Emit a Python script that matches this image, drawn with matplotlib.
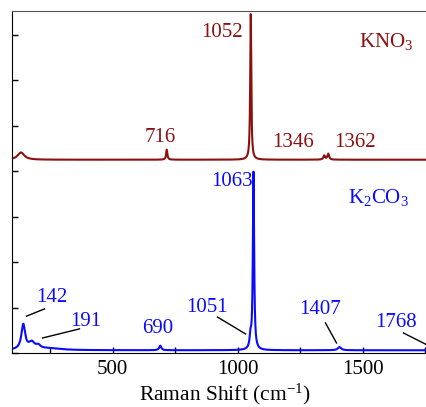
import numpy as np
import matplotlib
matplotlib.use("Agg")
import matplotlib.pyplot as plt

plt.rcParams['font.family'] = ['Liberation Serif', 'DejaVu Serif']
plt.rcParams['mathtext.fontset'] = 'custom'
plt.rcParams['mathtext.rm'] = 'Liberation Serif'
plt.rcParams['mathtext.it'] = 'Liberation Serif:italic'

# ---- data ----
# KNO3 (offset spectrum): baseline, peak centres, heights, half-widths
kno3_base = 4.25
kno3_centres = [133, 716, 1052, 1346, 1362]
kno3_heights = [0.16, 0.22, 3.20, 0.09, 0.13]
kno3_hwhm = [16, 3, 2.5, 4, 4]
kno3_labels = ["716", "1052", "1346", "1362"]
kno3_label_pos = [(691, 4.73), (935, 7.05), (1223, 4.62), (1467, 4.62)]

# K2CO3
k2co3_base = 0.06
k2co3_centres = [142, 176, 202, 240, 690, 1051, 1063, 1407]
k2co3_heights = [0.55, 0.15, 0.07, 0.04, 0.10, 0.26, 3.90, 0.07]
k2co3_hwhm = [9, 14, 10, 60, 5, 4, 3, 8]
k2co3_labels = ["142", "191", "690", "1051", "1063", "1407", "1768"]
k2co3_label_pos = [(255, 1.21), (391, 0.70), (679, 0.53), (875, 1.01),
                   (975, 3.76), (1331, 0.95), (1631, 0.66)]
# leader lines (from, to) for labels with pointers
k2co3_leaders = {"142": ((155, 0.81), (227, 0.97)),
                 "191": ((219, 0.33), (367, 0.53)),
                 "1051": ((1031, 0.42), (919, 0.79)),
                 "1407": ((1395, 0.22), (1351, 0.66)),
                 "1768": ((1760, 0.17), (1663, 0.44))}

x = np.arange(97, 1800.5, 0.5)

def spectrum(base, centres, heights, hwhm):
    y = np.full_like(x, base)
    for c, h, w in zip(centres, heights, hwhm):
        y += h * w**2 / ((x - c)**2 + w**2)
    return y

y_kno3 = spectrum(kno3_base, kno3_centres, kno3_heights, kno3_hwhm)
y_k2co3 = spectrum(k2co3_base, k2co3_centres, k2co3_heights, k2co3_hwhm)

red = '#8b1010'
blue = '#0a0aff'

fig = plt.figure(figsize=(4.27, 4.07), dpi=100)
ax = fig.add_axes([12/427, 54/407, 425.75/427, 342/407])
ax.plot(x, y_kno3, color=red, lw=1.5)
ax.plot(x, y_k2co3, color=blue, lw=1.5)
ax.set_xlim(97, 1800)
ax.set_ylim(0, 7.52)

fs = 15
for lab, (px, py) in zip(kno3_labels, kno3_label_pos):
    ax.text(px, py, lab, color=red, fontsize=fs, ha='center', va='center')
ax.text(1595, 6.86, r"KNO$_3$", color=red, fontsize=fs, ha='center', va='center')

for lab, (px, py) in zip(k2co3_labels, k2co3_label_pos):
    ax.text(px, py, lab, color=blue, fontsize=fs, ha='center', va='center')
    if lab in k2co3_leaders:
        (x0, y0), (x1, y1) = k2co3_leaders[lab]
        ax.plot([x0, x1], [y0, y1], color='black', lw=1.0)
ax.text(1563, 3.43, r"K$_2$CO$_3$", color=blue, fontsize=fs, ha='center', va='center')

ax.set_xticks([500, 1000, 1500])
ax.set_xticks([250, 750, 1250, 1750], minor=True)
ax.set_yticks(np.arange(0, 8, 1))
ax.set_yticklabels([])
ax.tick_params(axis='both', which='both', direction='in', length=4, width=1)
ax.tick_params(axis='x', labelsize=fs, pad=5)
ax.tick_params(axis='y', right=False)
ax.tick_params(axis='x', top=False, which='both')
ax.set_xlabel("Raman Shift (cm$^{-1}$)", fontsize=15.5, labelpad=2)
ax.spines['top'].set_color('#555555')
ax.spines['right'].set_visible(False)

fig.savefig("out.png", dpi=100)
